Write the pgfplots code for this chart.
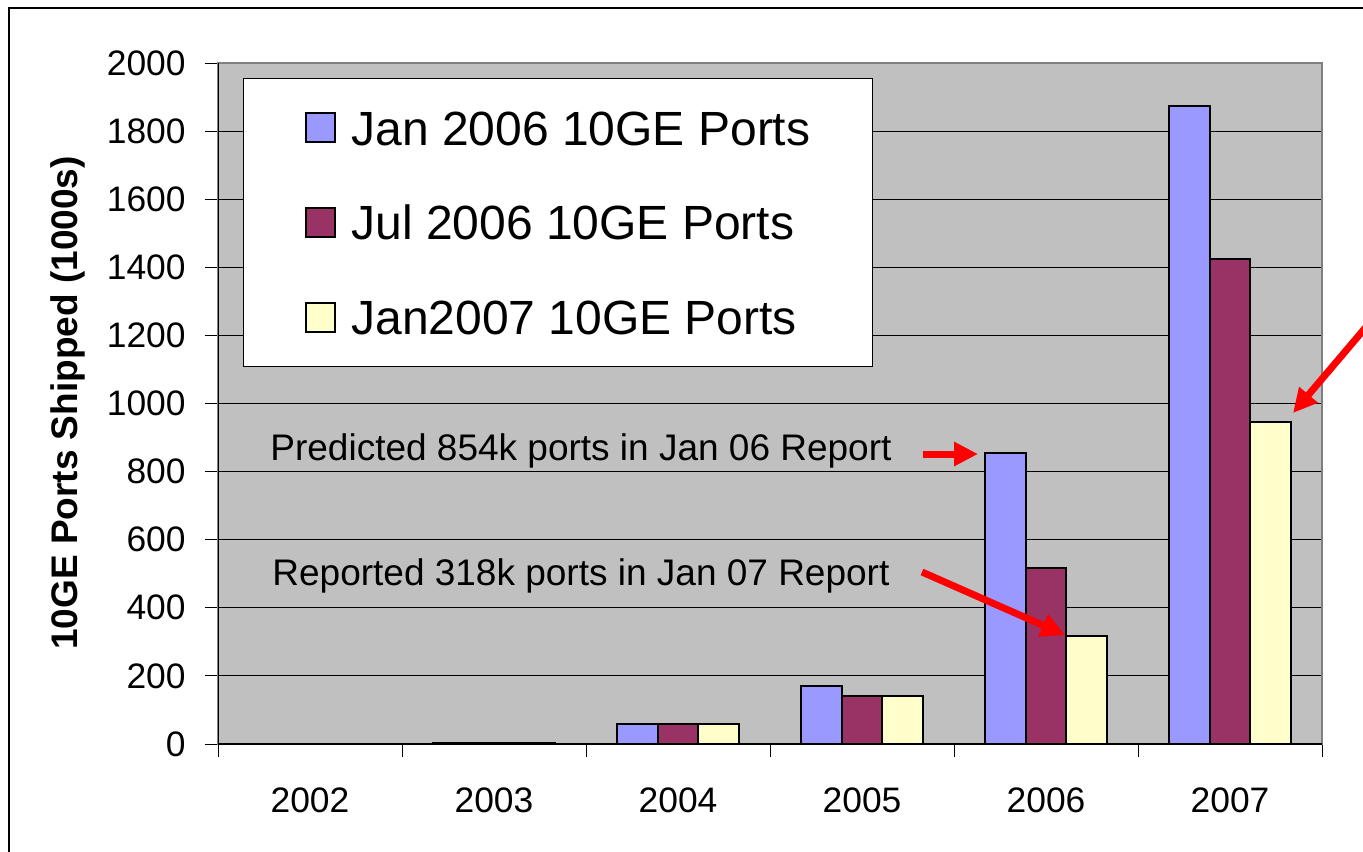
\documentclass[border=0pt]{standalone}
\usepackage{pgfplots}
\pgfplotsset{compat=1.18}
\usetikzlibrary{arrows.meta}
\usepackage{fontspec}
\setmainfont{Liberation Sans}
\definecolor{barA}{HTML}{9999FF}
\definecolor{barB}{HTML}{993366}
\definecolor{barC}{HTML}{FFFFCC}
\definecolor{plotbg}{HTML}{C0C0C0}
\definecolor{frameg}{HTML}{808080}
\begin{document}
\begin{tikzpicture}
\useasboundingbox (0pt,0pt) rectangle (681.5pt,-425.5pt);
\begin{scope}
\clip (0pt,0pt) rectangle (681.5pt,-425.5pt);
\draw[line width=0.75pt] (4.5pt,-4pt) rectangle (700pt,-450pt);
\end{scope}
\begin{axis}[
  at={(109pt,-372pt)}, anchor=south west,
  width=552pt, height=340.5pt, scale only axis,
  xmin=-0.5, xmax=5.5, ymin=0, ymax=2000,
  axis background/.style={fill=plotbg},
  axis line style={draw=frameg, line width=1pt},
  ytick={0,200,...,2000},
  xtick={-0.5,0.5,...,5.5},
  x tick label as interval,
  xticklabels={2002,2003,2004,2005,2006,2007},
  ymajorgrids,
  major grid style={black, line width=0.5pt},
  tick align=outside,
  major tick length=6.5pt,
  tick style={black, line width=0.5pt},
  xtick pos=bottom, ytick pos=left,
  /pgf/number format/.cd, 1000 sep={}, assume math mode=true, /pgfplots/.cd,
  tick label style={font=\fontsize{17.7}{21}\selectfont},
  yticklabel style={anchor=east, inner sep=0pt, xshift=-9.5pt},
  xticklabel style={anchor=north, inner sep=0pt, yshift=-15pt},
  legend style={at={(rel axis cs:0.0226,0.978)}, anchor=north west,
    draw=black, line width=0.5pt, fill=white,
    inner xsep=31pt, inner ysep=16.1pt, row sep=30.2pt, column sep=7.5pt,
    font=\fontsize{24}{28}\selectfont,
    nodes={inner sep=0pt, text height=17.2pt, text depth=0pt}},
  legend cell align=left,
]
\addplot[ybar, bar width=0.2222, bar shift=-0.2222, fill=barA, draw=black, line width=1pt,
  legend image code/.code={\draw[fill=barA,draw=black,line width=1pt] (0pt,-7.25pt) rectangle (14.5pt,7.25pt);}]
  coordinates {(1,4) (2,60) (3,170) (4,854) (5,1874)};
\addplot[ybar, bar width=0.2222, bar shift=0, fill=barB, draw=black, line width=1pt,
  legend image code/.code={\draw[fill=barB,draw=black,line width=1pt] (0pt,-7.25pt) rectangle (14.5pt,7.25pt);}]
  coordinates {(1,4) (2,60) (3,141) (4,518) (5,1423)};
\addplot[ybar, bar width=0.2222, bar shift=0.2222, fill=barC, draw=black, line width=1pt,
  legend image code/.code={\draw[fill=barC,draw=black,line width=1pt] (0pt,-7.25pt) rectangle (14.5pt,7.25pt);}]
  coordinates {(1,4) (2,60) (3,141) (4,318) (5,945)};
\legend{Jan 2006 10GE Ports, Jul 2006 10GE Ports, Jan2007 10GE Ports}
\draw[black, line width=0.75pt] (rel axis cs:0,0) -- (rel axis cs:1,0);
\draw[black, line width=0.75pt] (rel axis cs:0,0) -- (rel axis cs:0,1);
\end{axis}
\begin{scope}[x=0.5pt, y=-0.5pt]
\node[rotate=90, font=\bfseries\fontsize{18.5}{22}\selectfont] at (68,403) {10GE Ports Shipped (1000s)};
\node[anchor=base west, inner sep=0pt, font=\fontsize{18.5}{22}\selectfont] at (270,460) {Predicted 854k ports in Jan 06 Report};
\node[anchor=base west, inner sep=0pt, font=\fontsize{18.5}{22}\selectfont] at (272,585) {Reported 318k ports in Jan 07 Report};
\begin{scope}
\clip (0,0) rectangle (1363,851);
\draw[red, line width=3.5pt, -{Triangle[length=12pt,width=11.5pt]}] (923,454) -- (978,454);
\draw[red, line width=3.5pt, -{Triangle[length=12pt,width=11.5pt]}] (922,572) -- (1065,635);
\draw[red, line width=3.5pt, -{Triangle[length=12pt,width=11.5pt]}] (1400,287) -- (1293,413);
\end{scope}
\end{scope}
\end{tikzpicture}
\end{document}
